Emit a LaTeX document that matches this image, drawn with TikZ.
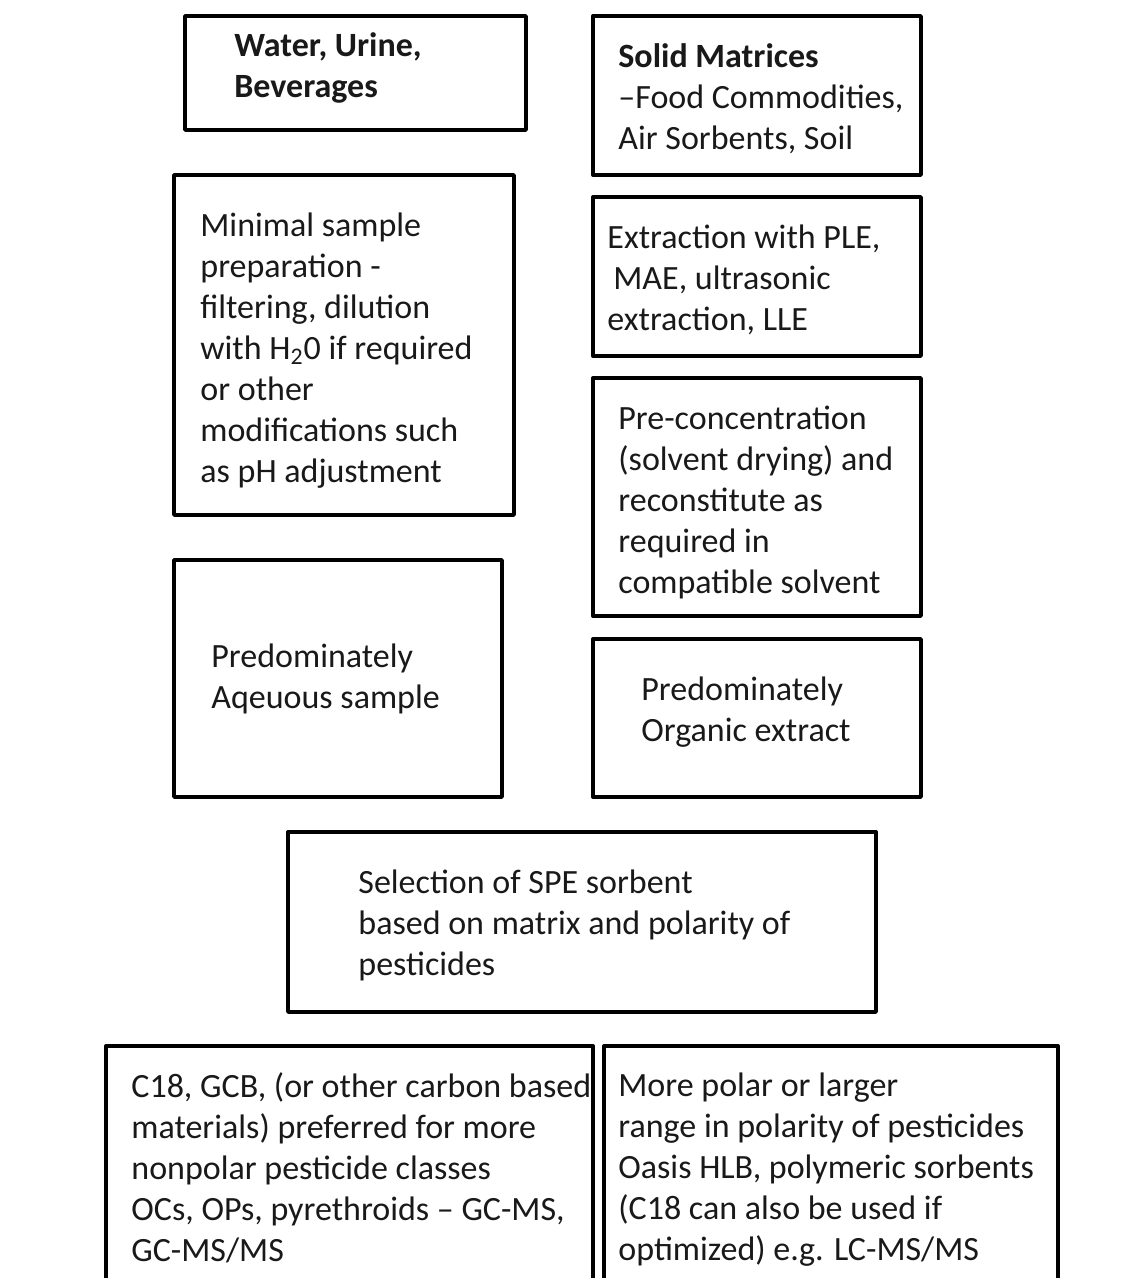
\documentclass[tikz,border=0pt]{standalone}
\usepackage{fontspec}
\setmainfont{Carlito}
\usepackage{tikz}
\usetikzlibrary{fit}
\usetikzlibrary{positioning}

\tikzset{
  box/.style={draw=black, line width=1.7pt, inner sep=0pt},
  txt/.style={anchor=west, align=left, inner sep=0pt, text=black!90,
    font=\fontsize{17}{20.5}\selectfont},
}

\begin{document}
\begin{tikzpicture}[line cap=round,line join=round,x=0.5pt,y=-0.5pt]
\clip(0,0) rectangle (1140,1278);
\fill[white] (0,0) rectangle (1140,1278);
% top row
\node[box, fit={(185,16) (526,130)}] (water) {};
\node[txt, font=\fontsize{17}{20.5}\selectfont\bfseries] (watertext) at (234,67.5) {Water, Urine,\\Beverages};
\node[box, fit={(593,16) (921,175)}] (solid) {};
\node[txt] (solidtext) at (618,99) {\textbf{Solid Matrices}\\–Food Commodities,\\Air Sorbents, Soil};
% sample preparation
\node[box, fit={(174,175) (514,515)}] (minimal) {};
\node[txt] (minimaltext) at (200,350.5) {Minimal sample\\preparation -\\filtering, dilution\\with H\textsubscript{2}0 if required\\or other\\modifications such\\as pH adjustment};
\node[box, fit={(593,197) (921,356)}] (extract) {};
\node[txt] (extracttext) at (607,280) {Extraction with PLE,\\\hspace{3pt}MAE, ultrasonic\\extraction, LLE};
\node[box, fit={(593,378) (921,616)}] (precon) {};
\node[txt] (precontext) at (618,502) {Pre-concentration\\(solvent drying) and\\reconstitute as\\required in\\compatible solvent};
% sample type
\node[box, fit={(174,560) (502,797)}] (aqueous) {};
\node[txt] (aqueoustext) at (211,678.5) {Predominately\\Aqeuous sample};
\node[box, fit={(593,639) (921,797)}] (organic) {};
\node[txt] (organictext) at (641,712.5) {Predominately\\Organic extract};
% sorbent
\node[box, fit={(288,832) (876,1012)}] (select) {};
\node[txt] (selecttext) at (358,925) {Selection of SPE sorbent\\based on matrix and polarity of\\pesticides};
\node[box, fit={(106,1046) (593,1320)}] (nonpolar) {};
\node[txt] (nonpolartext) at (131,1168) {C18, GCB, (or other carbon based\\materials) preferred for more\\nonpolar pesticide classes\\OCs, OPs, pyrethroids -- GC-MS,\\GC-MS/MS};
\node[box, fit={(604,1046) (1058,1320)}] (polar) {};
\node[txt] (polartext) at (618,1170) {More polar or larger\\range in polarity of pesticides\\Oasis HLB, polymeric sorbents\\(C18 can also be used if\\optimized) e.g. LC-MS/MS};
\end{tikzpicture}
\end{document}
